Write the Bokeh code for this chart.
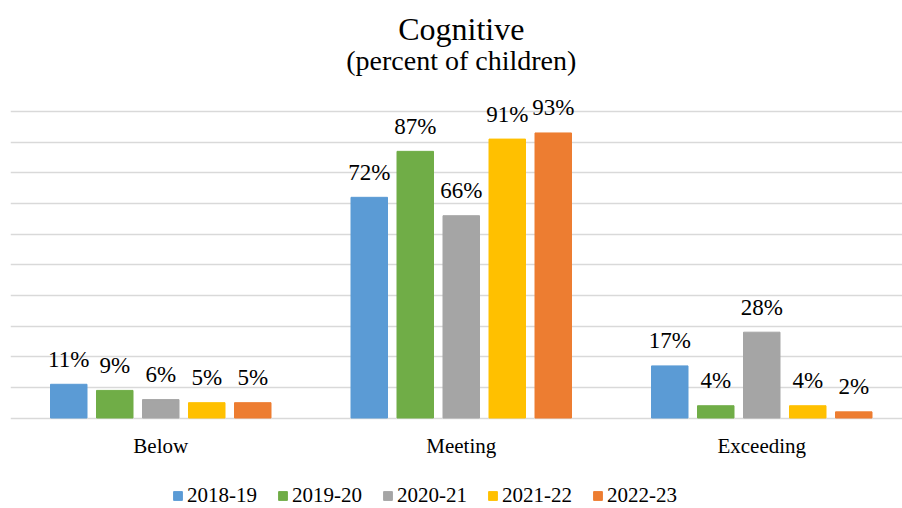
from bokeh.plotting import figure
from bokeh.models import (Range1d, FixedTicker, Grid, Legend, LegendItem,
                          ColumnDataSource)
from bokeh.transform import dodge
from bokeh.core.properties import value
from bokeh.embed import file_html
from bokeh.resources import INLINE

title_text = "Cognitive"
subtitle_text = "(percent of children)"
categories = ["Below", "Meeting", "Exceeding"]
years = ["2018-19", "2019-20", "2020-21", "2021-22", "2022-23"]
v_2018_19 = [11, 72, 17]
v_2019_20 = [9, 87, 4]
v_2020_21 = [6, 66, 28]
v_2021_22 = [5, 91, 4]
v_2022_23 = [5, 93, 2]
series = [v_2018_19, v_2019_20, v_2020_21, v_2021_22, v_2022_23]
colors = ["#5B9BD5", "#70AD47", "#A5A5A5", "#FFC000", "#ED7D31"]
y_ticks = list(range(0, 101, 10))

FONT = "'Liberation Serif', serif"
W, H = 902, 508
BL = 10
band_px = 300.5
px_per_unit = 3.065
baseline_px = 417.5          # screen y of value 0
frame_w = W - BL
y_start = -(H - baseline_px) / px_per_unit
y_end = baseline_px / px_per_unit

p = figure(width=W, height=H, output_backend="svg", toolbar_location=None,
           x_range=Range1d(0, frame_w / band_px),
           y_range=Range1d(y_start, y_end),
           x_axis_location=None, y_axis_location=None, title=None,
           min_border_left=BL, min_border_right=0,
           min_border_top=0, min_border_bottom=0,
           outline_line_color=None)
for g in p.grid:
    g.visible = False
p.add_layout(Grid(dimension=1, ticker=FixedTicker(ticks=y_ticks),
                  grid_line_color="#d9d9d9", grid_line_width=1.3))

# titles, centred over the categories
mid_x = len(categories) / 2
t_src = ColumnDataSource(dict(x=[mid_x, mid_x], y=[y_end, y_end],
                              t=[title_text, subtitle_text],
                              off=[28.3, 59.5], fs=["32px", "28px"]))
p.text(x="x", y="y", text="t", source=t_src, y_offset="off", text_font_size="fs",
       text_align="center", text_baseline="alphabetic", text_font=value(FONT),
       text_color="#000000")

centers = [i + 0.5 for i in range(len(categories))]
cat_src = ColumnDataSource(dict(x=centers, y=[0] * len(categories), name=categories))
p.text(x="x", y="y", text="name", source=cat_src, text_align="center",
       text_baseline="alphabetic", y_offset=28, text_font=value(FONT),
       text_font_size="21px", text_color="#000000")

pitch = 46 / band_px
bar_w = 36.5 / band_px
items = []
for j, (yr, vals) in enumerate(zip(years, series)):
    src = ColumnDataSource(dict(x=centers, top=vals, label=[f"{v}%" for v in vals]))
    off = (j - 2) * pitch
    r = p.vbar(x=dodge("x", off, range=p.x_range), top="top", width=bar_w,
               source=src, fill_color=colors[j], line_color=colors[j])
    p.text(x=dodge("x", off, range=p.x_range), y="top", text="label", source=src,
           text_align="center", text_baseline="alphabetic", y_offset=-25,
           text_font=value(FONT), text_font_size="23px",
           text_color="#000000")
    items.append(LegendItem(label=yr, renderers=[r]))

legend = Legend(items=items, orientation="horizontal", location=(162, 0),
                border_line_color=None, background_fill_alpha=0,
                label_text_font=FONT, label_text_font_size="21px",
                label_text_color="#000000",
                glyph_width=11, glyph_height=11, label_standoff=4, spacing=20,
                padding=0, margin=0)
p.add_layout(legend)

open("out.html", "w").write(file_html(p, INLINE))
